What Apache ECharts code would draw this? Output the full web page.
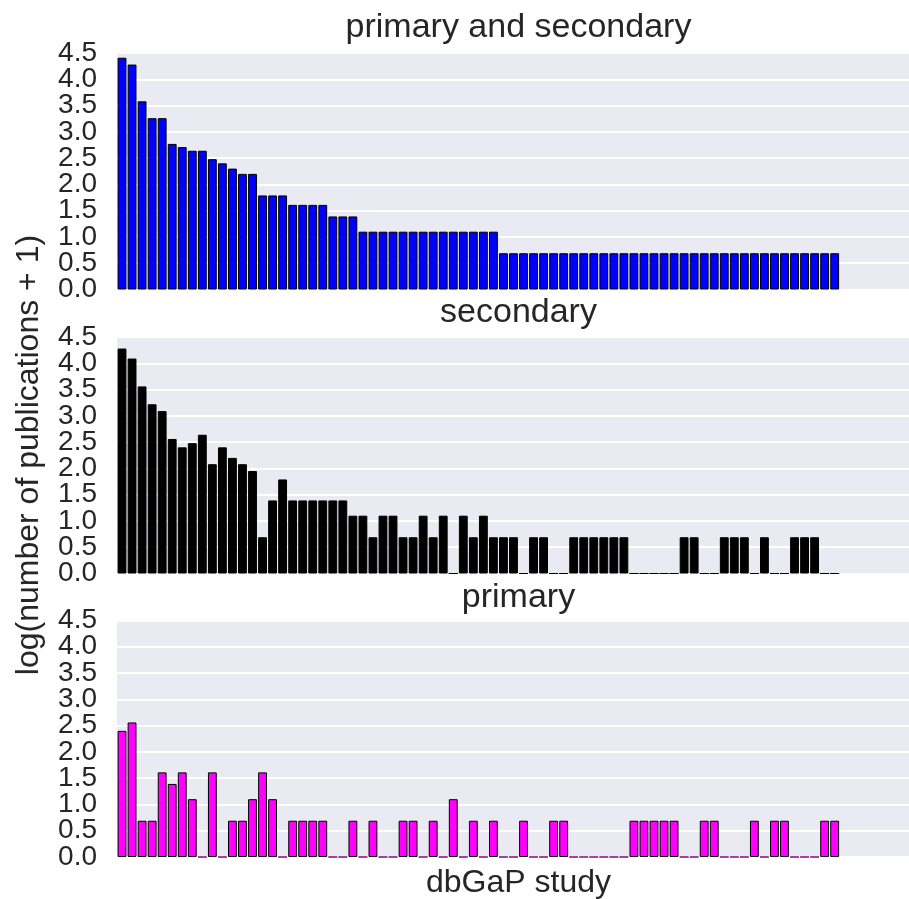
<!DOCTYPE html>
<html>
<head>
<meta charset="utf-8">
<style>
  html, body { margin: 0; padding: 0; background: #ffffff; }
  #chart { width: 909px; height: 899px; }
</style>
<script src="https://cdn.jsdelivr.net/npm/echarts@6/dist/echarts.min.js"></script>
</head>
<body>
<div id="chart"></div>
<script>
// log(number of publications + 1) per dbGaP study, studies ranked by combined count
const panelTitles = ['primary and secondary', 'secondary', 'primary'];
const yTicks = [0, 0.5, 1.0, 1.5, 2.0, 2.5, 3.0, 3.5, 4.0, 4.5];
const slotCount = 80; // x-axis slots (studies plus empty room on the right)

const primaryAndSecondary = [
  4.41, 4.28, 3.58, 3.26, 3.26, 2.77, 2.71, 2.64, 2.64, 2.48,
  2.40, 2.30, 2.20, 2.20, 1.79, 1.79, 1.79, 1.61, 1.61, 1.61,
  1.61, 1.39, 1.39, 1.39, 1.10, 1.10, 1.10, 1.10, 1.10, 1.10,
  1.10, 1.10, 1.10, 1.10, 1.10, 1.10, 1.10, 1.10, 0.69, 0.69,
  0.69, 0.69, 0.69, 0.69, 0.69, 0.69, 0.69, 0.69, 0.69, 0.69,
  0.69, 0.69, 0.69, 0.69, 0.69, 0.69, 0.69, 0.69, 0.69, 0.69,
  0.69, 0.69, 0.69, 0.69, 0.69, 0.69, 0.69, 0.69, 0.69, 0.69,
  0.69, 0.69
];

const secondary = [
  4.28, 4.09, 3.56, 3.22, 3.09, 2.56, 2.40, 2.48, 2.64, 2.08,
  2.40, 2.20, 2.08, 1.95, 0.69, 1.39, 1.79, 1.39, 1.39, 1.39,
  1.39, 1.39, 1.39, 1.10, 1.10, 0.69, 1.10, 1.10, 0.69, 0.69,
  1.10, 0.69, 1.10, 0,    1.10, 0.69, 1.10, 0.69, 0.69, 0.69,
  0,    0.69, 0.69, 0,    0,    0.69, 0.69, 0.69, 0.69, 0.69,
  0.69, 0,    0,    0,    0,    0,    0.69, 0.69, 0,    0,
  0.69, 0.69, 0.69, 0,    0.69, 0,    0,    0.69, 0.69, 0.69,
  0,    0
];

const primary = [
  2.40, 2.56, 0.69, 0.69, 1.61, 1.39, 1.61, 1.10, 0,    1.61,
  0,    0.69, 0.69, 1.10, 1.61, 1.10, 0,    0.69, 0.69, 0.69,
  0.69, 0,    0,    0.69, 0,    0.69, 0,    0,    0.69, 0.69,
  0,    0.69, 0,    1.10, 0,    0.69, 0,    0.69, 0,    0,
  0.69, 0,    0,    0.69, 0.69, 0,    0,    0,    0,    0,
  0,    0.69, 0.69, 0.69, 0.69, 0.69, 0,    0,    0.69, 0.69,
  0,    0,    0,    0.69, 0,    0.69, 0.69, 0,    0,    0,
  0.69, 0.69
];

const panelData = [primaryAndSecondary, secondary, primary];
const panelColors = ['#0000ff', '#000000', '#ff00ff'];
const zeroEdgeColors = ['#000000', '#000000', '#8b008b'];

const studies = [];
for (let i = 0; i < slotCount; i++) studies.push(String(i));

const FONT = "'Liberation Sans', Arial, 'DejaVu Sans', sans-serif";
const TEXT = '#262626';
const panelTops = [53, 337, 620.5];
const panelHeight = 236.5;
const gridLeft = 117;
const gridWidth = 803;
const titleY = [28, 313, 598];

// tick labels sit 26px apart, tighter than the glyphs; two label rows per panel
// (whole and half values) keep the axis from dropping any of them
const wholeTicks = yTicks.filter((t, i) => i % 2 === 0);
const halfTicks = yTicks.filter((t, i) => i % 2 === 1);

const grids = [], xAxes = [], yAxes = [], series = [], titleTexts = [];

function tickAxis(k, values, withGrid) {
  return {
    type: 'value', gridIndex: k, position: 'left', offset: 0,
    min: yTicks[0], max: yTicks[yTicks.length - 1], interval: 0.5,
    axisLine: { show: false }, axisTick: { show: false },
    axisLabel: {
      show: true, customValues: values, color: TEXT, fontFamily: FONT, fontSize: 28, margin: 20,
      formatter: v => Number(v).toFixed(1)
    },
    splitLine: { show: withGrid, lineStyle: { color: '#ffffff', width: 2 } }
  };
}

panelData.forEach((vals, k) => {
  grids.push({
    left: gridLeft, top: panelTops[k], width: gridWidth, height: panelHeight,
    show: true, backgroundColor: '#EAEAF2', borderWidth: 0,
    containLabel: false, outerBoundsMode: 'none'
  });
  xAxes.push({
    type: 'category', gridIndex: k, data: studies, boundaryGap: true,
    axisLine: { show: false }, axisTick: { show: false }, axisLabel: { show: false },
    splitLine: { show: false }
  });
  yAxes.push(tickAxis(k, wholeTicks, true));
  yAxes.push(tickAxis(k, halfTicks, false));
  series.push({
    type: 'bar', xAxisIndex: k, yAxisIndex: 2 * k,
    data: vals.map(v => v === 0
      ? { value: v, itemStyle: { borderColor: zeroEdgeColors[k] } }
      : v),
    barWidth: '88%', animation: false,
    itemStyle: { color: panelColors[k], borderColor: '#000000', borderWidth: 1 }
  });
  titleTexts.push({
    type: 'text', x: 518.5, y: titleY[k], silent: true,
    style: { text: panelTitles[k], fill: TEXT, font: `34px ${FONT}`, textAlign: 'center', textVerticalAlign: 'middle' }
  });
});

const chart = echarts.init(document.getElementById('chart'), null, { renderer: 'canvas' });
chart.setOption({
  backgroundColor: '#ffffff',
  animation: false,
  grid: grids,
  xAxis: xAxes,
  yAxis: yAxes,
  series: series,
  graphic: [
    ...titleTexts,
    {
      type: 'text', x: 518.5, y: 883, silent: true,
      style: { text: 'dbGaP study', fill: TEXT, font: `32px ${FONT}`, textAlign: 'center', textVerticalAlign: 'middle' }
    },
    {
      type: 'text', x: 29, y: 455, rotation: Math.PI / 2, silent: true,
      style: { text: 'log(number of publications + 1)', fill: TEXT, font: `32px ${FONT}`, textAlign: 'center', textVerticalAlign: 'middle' }
    }
  ]
});
</script>
</body>
</html>
